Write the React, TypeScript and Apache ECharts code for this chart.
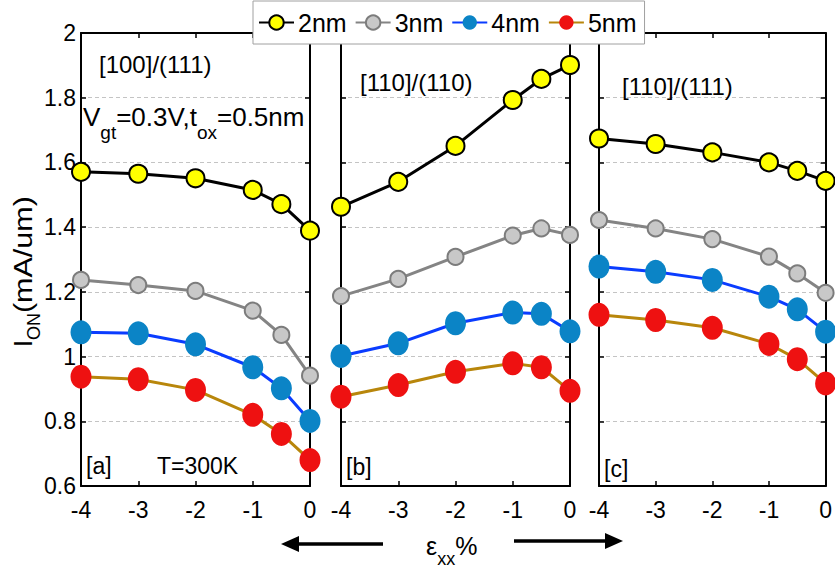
import React, { useEffect, useRef } from "react";
import * as echarts from "echarts";

// Strain values (ε_xx %) at which I_ON was computed
const strain = [-4, -3, -2, -1, -0.5, 0];
const sizeNames = ["2nm", "3nm", "4nm", "5nm"];

// [a] [100]/(111)
const a2nm = [1.571, 1.565, 1.551, 1.515, 1.471, 1.389];
const a3nm = [1.237, 1.221, 1.203, 1.142, 1.067, 0.941];
const a4nm = [1.075, 1.072, 1.038, 0.967, 0.902, 0.801];
const a5nm = [0.938, 0.93, 0.897, 0.82, 0.761, 0.68];

// [b] [110]/(110)
const b2nm = [1.463, 1.54, 1.651, 1.793, 1.858, 1.901];
const b3nm = [1.187, 1.24, 1.308, 1.374, 1.396, 1.376];
const b4nm = [1.002, 1.041, 1.103, 1.136, 1.132, 1.078];
const b5nm = [0.876, 0.912, 0.953, 0.979, 0.967, 0.894];

// [c] [110]/(111)
const c2nm = [1.674, 1.657, 1.631, 1.6, 1.574, 1.543];
const c3nm = [1.422, 1.396, 1.363, 1.309, 1.257, 1.197];
const c4nm = [1.278, 1.262, 1.237, 1.185, 1.146, 1.077];
const c5nm = [1.129, 1.113, 1.089, 1.039, 0.992, 0.917];

const panels = [
  { tag: "[a]", orient: "[100]/(111)", sets: [a2nm, a3nm, a4nm, a5nm] },
  { tag: "[b]", orient: "[110]/(110)", sets: [b2nm, b3nm, b4nm, b5nm] },
  { tag: "[c]", orient: "[110]/(111)", sets: [c2nm, c3nm, c4nm, c5nm] },
];

const yMin = 0.6;
const yMax = 2;
const yStep = 0.2;
const xMin = -4;
const xMax = 0;
const xStep = 1;

const FONT = '"Liberation Sans", Arial, Helvetica, sans-serif';

const W = 835;
const H = 574;
const GRID_TOP = 33;
const GRID_H = 453;
const gridBoxes = [
  { left: 81, width: 229 },
  { left: 341, width: 229 },
  { left: 599, width: 228 },
];

const markStyles = [
  { fill: "#ffff00", border: "#000000", line: "#000000", size: 18, bw: 2 },
  { fill: "#c8c8c8", border: "#7c7c7c", line: "#848484", size: 16, bw: 2 },
  { fill: "#0b84c6", border: "#0b84c6", line: "#0a3cff", size: [21, 24], bw: 0 },
  { fill: "#ee1111", border: "#ee1111", line: "#b8860b", size: [21, 24], bw: 0 },
];

let measureCtx: CanvasRenderingContext2D | null = null;
function textWidth(s: string, size: number): number {
  if (!measureCtx) measureCtx = document.createElement("canvas").getContext("2d");
  if (!measureCtx) return s.length * size * 0.55;
  measureCtx.font = `${size}px ${FONT}`;
  return measureCtx.measureText(s).width;
}

type Piece = { t: string; size: number; dy: number };

// Lays out a run of text pieces (with subscripts) left to right
function textRun(x: number, y: number, pieces: Piece[]) {
  const out: any[] = [];
  let cx = x;
  for (const p of pieces) {
    out.push({
      type: "text",
      x: cx,
      y: y + p.dy,
      z: 10,
      style: {
        text: p.t,
        fontSize: p.size,
        fontFamily: FONT,
        fill: "#000",
        textAlign: "left",
        textVerticalAlign: "middle",
      },
    });
    cx += textWidth(p.t, p.size);
  }
  return out;
}

function label(x: number, y: number, t: string, size: number) {
  return textRun(x, y, [{ t, size, dy: 0 }]);
}

function buildOption() {
  const grid = gridBoxes.map((g) => ({
    left: g.left,
    top: GRID_TOP,
    width: g.width,
    height: GRID_H,
    show: false,
  }));

  const xAxis: any[] = [];
  const yAxis: any[] = [];
  const axisLine = { show: true, onZero: false, lineStyle: { color: "#000", width: 2 } };
  const axisTick = { show: true, inside: true, length: 5, lineStyle: { color: "#000", width: 1.5 } };
  const tickFont = { fontSize: 23, fontFamily: FONT, color: "#000" };

  gridBoxes.forEach((_, i) => {
    xAxis.push({
      type: "value",
      gridIndex: i,
      position: "bottom",
      min: xMin,
      max: xMax,
      interval: xStep,
      axisLine,
      axisTick,
      axisLabel: { ...tickFont, margin: 12, showMinLabel: true, showMaxLabel: true },
      splitLine: { show: false },
    });
    xAxis.push({
      type: "value",
      gridIndex: i,
      position: "top",
      min: xMin,
      max: xMax,
      interval: xStep,
      axisLine,
      axisTick,
      axisLabel: { show: false },
      splitLine: { show: false },
    });
    yAxis.push({
      type: "value",
      gridIndex: i,
      position: "left",
      min: yMin,
      max: yMax,
      interval: yStep,
      axisLine,
      axisTick,
      axisLabel: i === 0 ? { ...tickFont, margin: 5 } : { show: false },
      splitLine: { show: true, lineStyle: { color: "#c4c4c4", type: [4, 3], width: 1 } },
    });
    yAxis.push({
      type: "value",
      gridIndex: i,
      position: "right",
      min: yMin,
      max: yMax,
      interval: yStep,
      axisLine,
      axisTick,
      axisLabel: { show: false },
      splitLine: { show: false },
    });
  });

  const series: any[] = [];
  panels.forEach((p, i) => {
    p.sets.forEach((vals, k) => {
      const st = markStyles[k];
      series.push({
        type: "line",
        name: sizeNames[k],
        xAxisIndex: 2 * i,
        yAxisIndex: 2 * i,
        data: strain.map((x, j) => [x, vals[j]]),
        symbol: "circle",
        symbolSize: st.size,
        showAllSymbol: true,
        clip: false,
        z: 3 + (3 - k),
        lineStyle: { color: st.line, width: 3 },
        itemStyle: { color: st.fill, borderColor: st.border, borderWidth: st.bw, opacity: 1 },
        emphasis: { disabled: true },
      });
    });
  });

  const graphic: any[] = [];
  // panel headers
  graphic.push(...label(99, 64, panels[0].orient, 24));
  graphic.push(...label(360, 82, panels[1].orient, 24));
  graphic.push(...label(622, 86, panels[2].orient, 24));
  // bias / oxide annotation
  graphic.push(
    ...textRun(83, 117, [
      { t: "V", size: 26, dy: 0 },
      { t: "gt", size: 19, dy: 15 },
      { t: "=0.3V,t", size: 26, dy: 0 },
      { t: "ox", size: 19, dy: 15 },
      { t: "=0.5nm", size: 26, dy: 0 },
    ])
  );
  // panel tags
  graphic.push(...label(86, 466, panels[0].tag, 23));
  graphic.push(...label(157, 466, "T=300K", 23));
  graphic.push(...label(346, 467, panels[1].tag, 23));
  graphic.push(...label(604, 469, panels[2].tag, 23));

  // x-axis name ε_xx %
  graphic.push(
    ...textRun(426, 546, [
      { t: "ε", size: 25, dy: 0 },
      { t: "xx", size: 18, dy: 13 },
      { t: "%", size: 25, dy: 0 },
    ])
  );

  // y-axis name I_ON(mA/um), reading bottom to top
  const rot = Math.PI / 2;
  const yBase = 347;
  const wI = textWidth("I", 25);
  const wON = textWidth("ON", 18);
  const parenScale = 1.22;
  graphic.push({
    type: "text", x: 23, y: yBase, rotation: rot, z: 10,
    style: { text: "I", fontSize: 25, fontFamily: FONT, fill: "#000", textAlign: "left", textVerticalAlign: "middle" },
  });
  graphic.push({
    type: "text", x: 34, y: yBase - wI, rotation: rot, z: 10,
    style: { text: "ON", fontSize: 18, fontFamily: FONT, fill: "#000", textAlign: "left", textVerticalAlign: "middle" },
  });
  graphic.push({
    type: "text", x: 23, y: yBase - wI - wON, rotation: rot, scaleX: parenScale, z: 10,
    style: { text: "(mA/um)", fontSize: 25, fontFamily: FONT, fill: "#000", textAlign: "left", textVerticalAlign: "middle" },
  });

  // direction arrows beneath the axis
  graphic.push({ type: "line", z: 10, shape: { x1: 383, y1: 544, x2: 294, y2: 544 }, style: { stroke: "#000", lineWidth: 3.5 } });
  graphic.push({ type: "polygon", z: 10, shape: { points: [[281, 544], [299, 536], [299, 552]] }, style: { fill: "#000" } });
  graphic.push({ type: "line", z: 10, shape: { x1: 514, y1: 541, x2: 610, y2: 541 }, style: { stroke: "#000", lineWidth: 3.5 } });
  graphic.push({ type: "polygon", z: 10, shape: { points: [[623, 541], [605, 533], [605, 549]] }, style: { fill: "#000" } });

  return {
    animation: false,
    backgroundColor: "#ffffff",
    grid,
    xAxis,
    yAxis,
    series,
    legend: {
      data: sizeNames,
      left: 253,
      top: 1,
      orient: "horizontal",
      itemWidth: 35,
      itemHeight: 18,
      itemGap: 8,
      padding: [9, 8, 9, 5],
      backgroundColor: "#ffffff",
      borderColor: "#a0a0a0",
      borderWidth: 1,
      selectedMode: false,
      z: 20,
      textStyle: { fontSize: 25, fontFamily: FONT, color: "#000", padding: [0, 0, 0, -1] },
    },
    graphic,
  };
}

export default function App() {
  const ref = useRef<HTMLDivElement>(null);
  useEffect(() => {
    if (!ref.current) return;
    const chart = echarts.init(ref.current, undefined, { renderer: "svg" });
    chart.setOption(buildOption() as any);
    return () => chart.dispose();
  }, []);
  return (
    <div
      ref={ref}
      style={{ position: "absolute", left: 0, top: 0, width: W, height: H, background: "#fff" }}
    />
  );
}
